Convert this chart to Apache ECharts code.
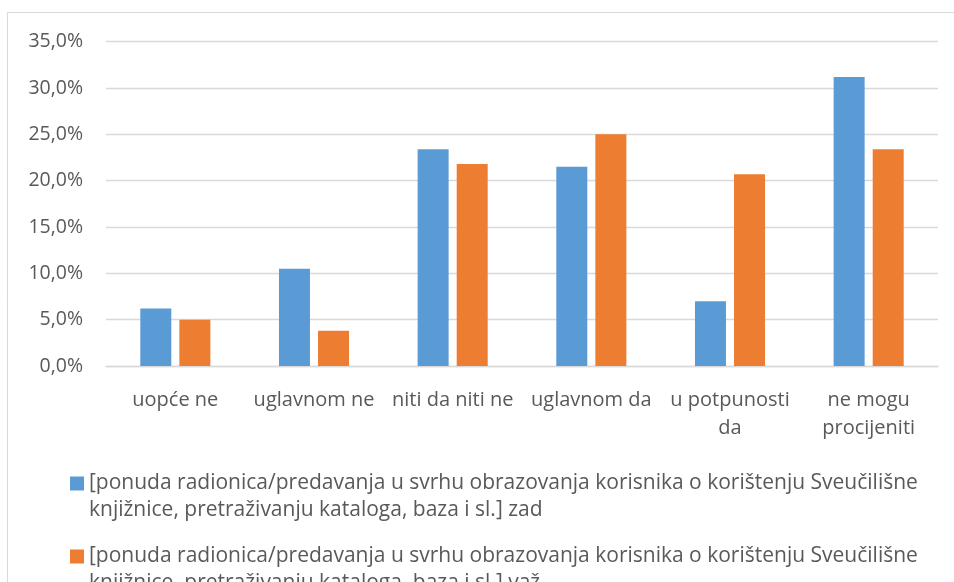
<!DOCTYPE html>
<html>
<head>
<meta charset="utf-8">
<script src="https://cdn.jsdelivr.net/npm/echarts@6/dist/echarts.min.js"></script>
<style>
  html, body { margin: 0; padding: 0; background: #ffffff; }
  #chart { width: 954px; height: 582px; }
</style>
</head>
<body>
<div id="chart"></div>
<script>
// Answer categories (x axis)
const categories = ['uopće ne', 'uglavnom ne', 'niti da niti ne', 'uglavnom da', 'u potpunosti\nda', 'ne mogu\nprocijeniti'];

// Series names
const nameZad = '[ponuda radionica/predavanja u svrhu obrazovanja korisnika o korištenju Sveučilišne knjižnice, pretraživanju kataloga, baza i sl.] zad';
const nameVaz = '[ponuda radionica/predavanja u svrhu obrazovanja korisnika o korištenju Sveučilišne knjižnice, pretraživanju kataloga, baza i sl.] važ';

// Shares in percent
const valuesZad = [6.2, 10.5, 23.4, 21.5, 7.0, 31.2];
const valuesVaz = [5.0, 3.8, 21.8, 25.0, 20.7, 23.4];

// Value axis ticks
const yMin = 0, yMax = 35, yStep = 5;

const FONT = '"Open Sans", sans-serif';
const TEXT = '#595959';
const LINE = '#d9d9d9';

// Legend marker: square aligned with the first text line, padded to the full item height
const legendIcon = 'path://M0,0L0,0M0,6.5H14V20.5H0Z M0,54L0,54';

const chart = echarts.init(document.getElementById('chart'), null, { renderer: 'canvas' });

chart.setOption({
  animation: false,
  backgroundColor: '#ffffff',
  textStyle: { fontFamily: FONT },
  graphic: [{
    type: 'rect',
    shape: { x: 7.5, y: 12.5, width: 960, height: 620 },
    style: { fill: 'none', stroke: LINE, lineWidth: 1 },
    silent: true,
    z: -10
  }],
  grid: { left: 106, right: 16, top: 41.7, bottom: 216, containLabel: false },
  xAxis: {
    type: 'category',
    data: categories,
    axisLine: { show: true, lineStyle: { color: LINE, width: 1.3 } },
    axisTick: { show: false },
    axisLabel: {
      interval: 0,
      margin: 20,
      color: TEXT,
      fontFamily: FONT,
      fontSize: 20,
      lineHeight: 28
    }
  },
  yAxis: {
    type: 'value',
    min: yMin,
    max: yMax,
    interval: yStep,
    axisLine: { show: false },
    axisTick: { show: false },
    splitLine: { lineStyle: { color: LINE, width: 1.3 } },
    axisLabel: {
      margin: 23,
      color: TEXT,
      fontFamily: FONT,
      fontSize: 19.5,
      formatter: v => v.toFixed(1).replace('.', ',') + '%'
    }
  },
  legend: {
    orient: 'vertical',
    left: 70,
    top: 470,
    width: 880,
    height: 300,
    padding: 0,
    itemWidth: 14,
    itemHeight: 54,
    itemGap: 19,
    icon: legendIcon,
    formatter: name => name.replace(' knjižnice,', '\nknjižnice,'),
    textStyle: {
      color: TEXT,
      fontFamily: FONT,
      fontSize: 21,
      lineHeight: 27
    },
    data: [nameZad, nameVaz]
  },
  series: [
    {
      name: nameZad,
      type: 'bar',
      data: valuesZad,
      barWidth: 31,
      barGap: '26%',
      itemStyle: { color: '#5B9BD5' }
    },
    {
      name: nameVaz,
      type: 'bar',
      data: valuesVaz,
      barWidth: 31,
      barGap: '26%',
      itemStyle: { color: '#ED7D31' }
    }
  ]
});
</script>
</body>
</html>
